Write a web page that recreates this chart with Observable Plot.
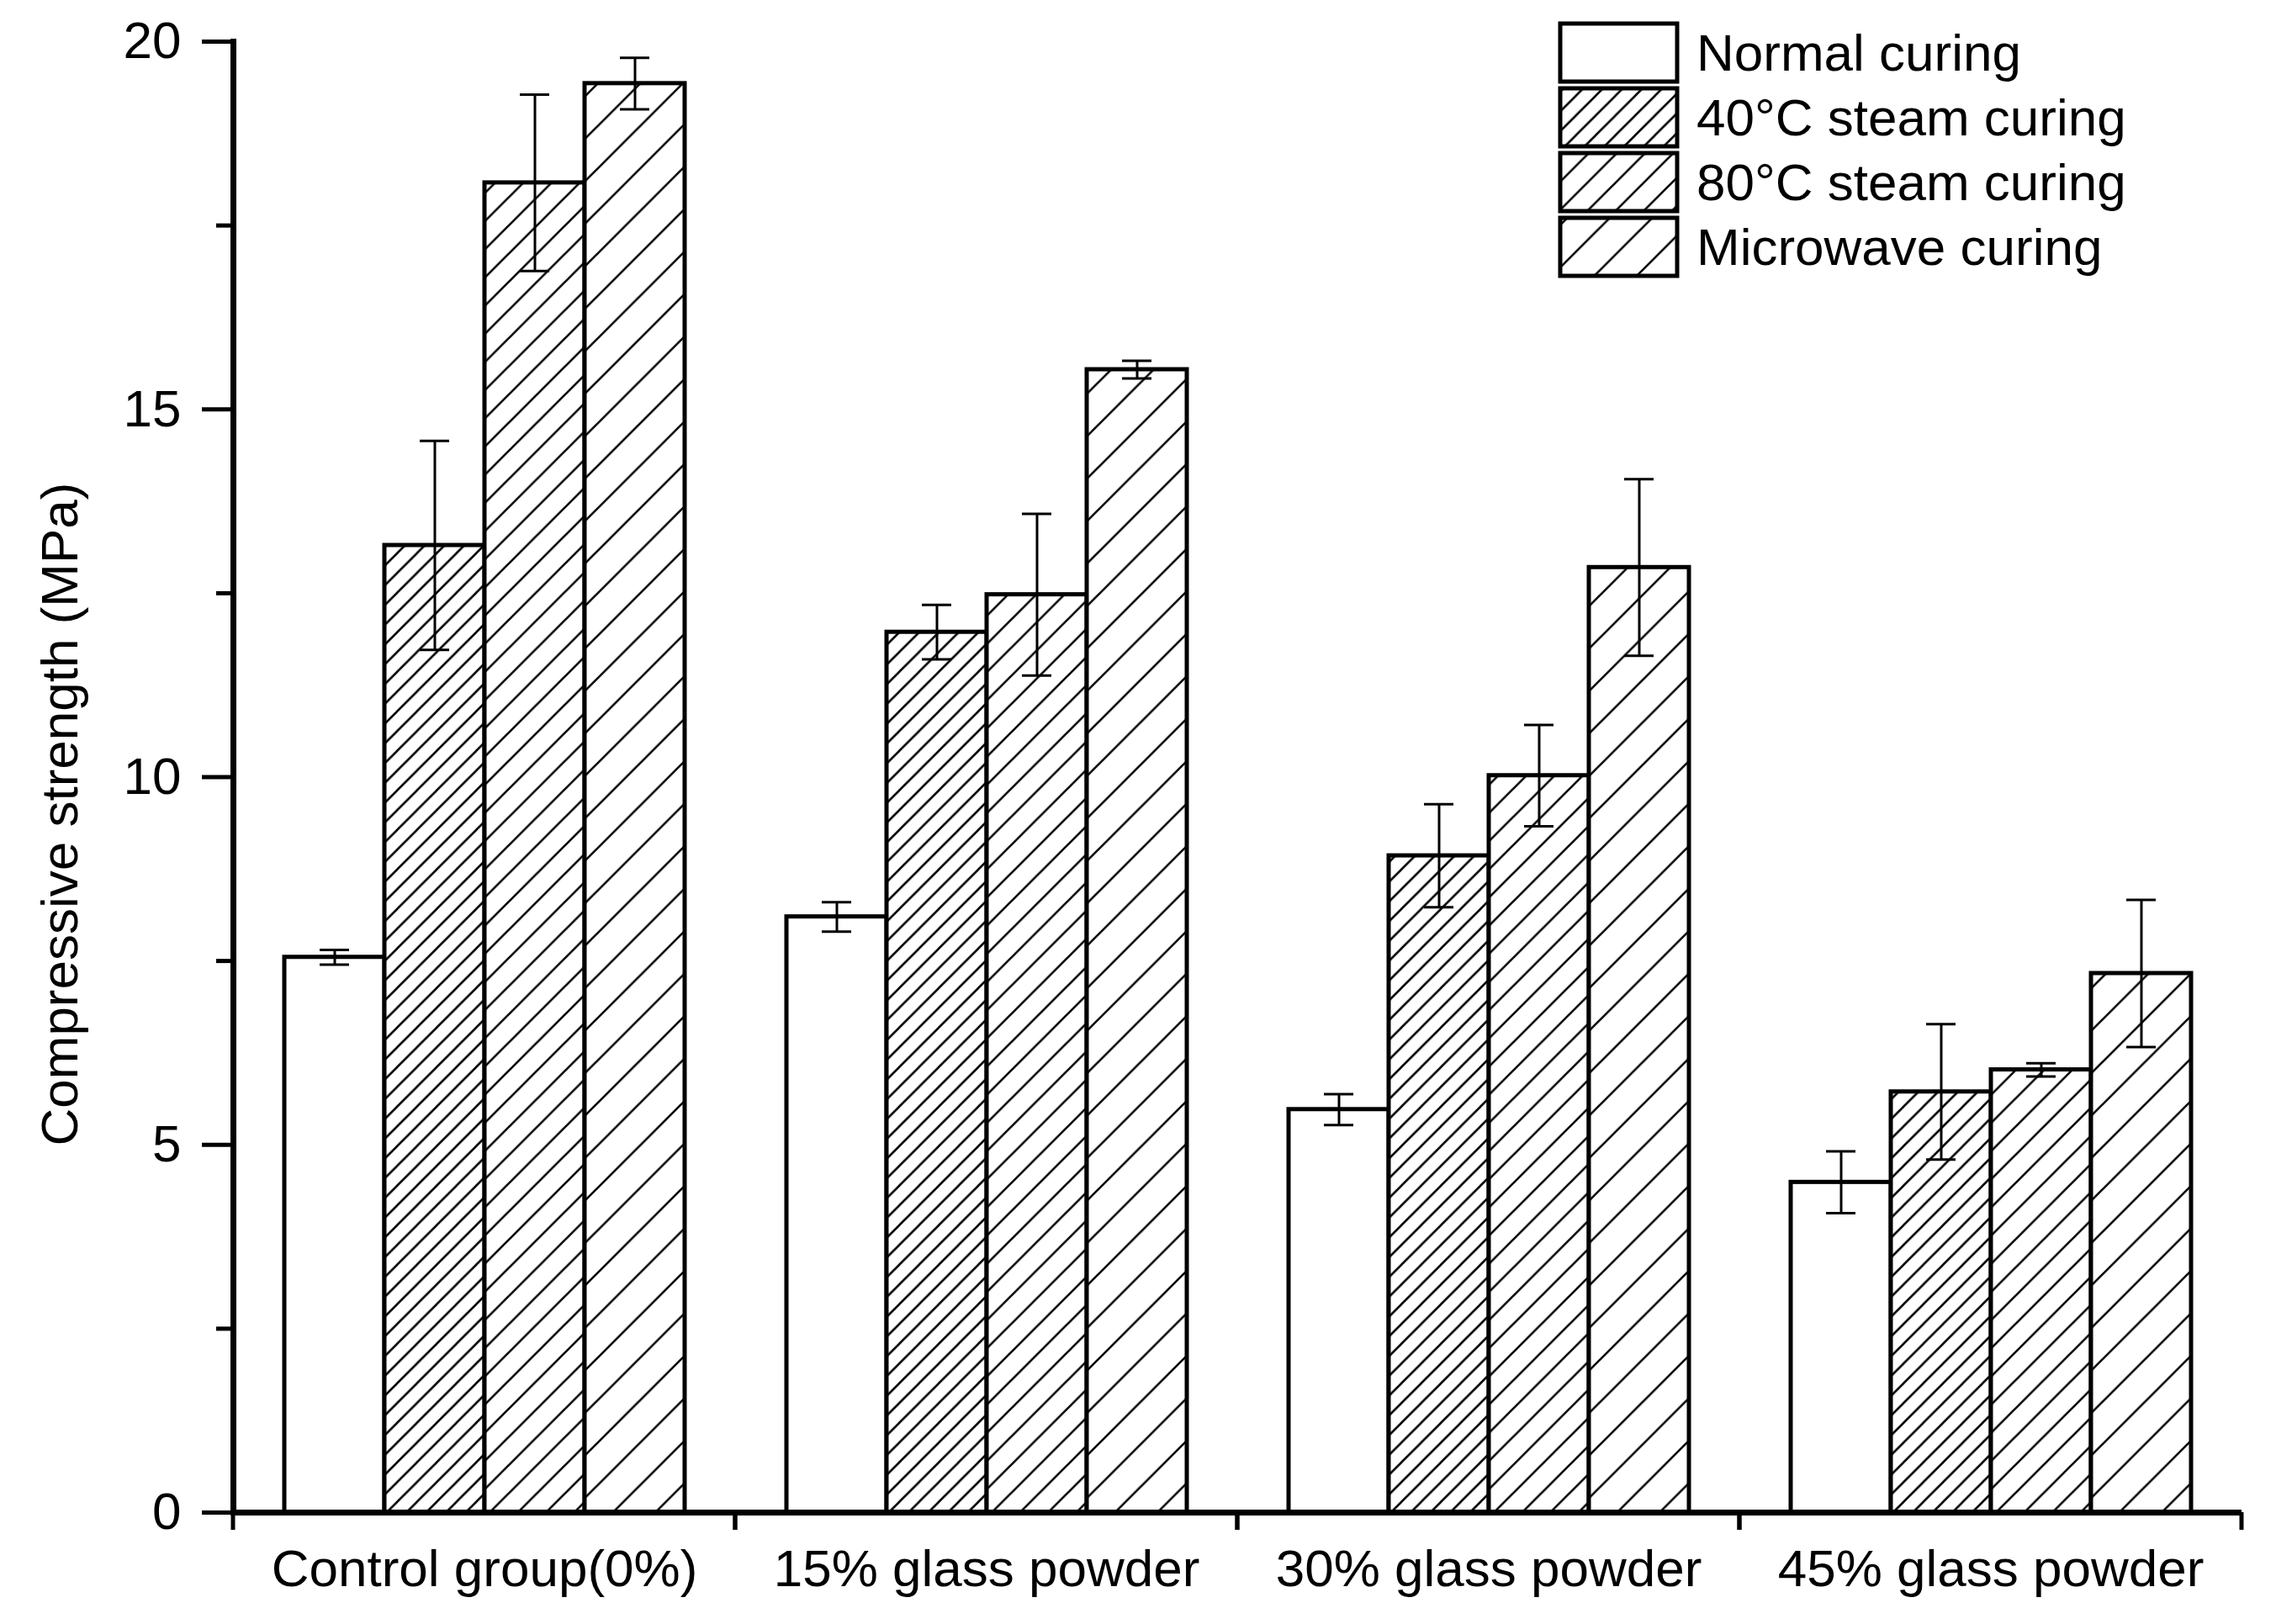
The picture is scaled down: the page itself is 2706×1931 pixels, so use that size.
<!DOCTYPE html>
<html><head><meta charset="utf-8">
<script src="https://cdn.jsdelivr.net/npm/d3@7"></script>
<script src="https://cdn.jsdelivr.net/npm/@observablehq/plot@0.6"></script>
<style>
html,body{margin:0;padding:0;background:#fff;overflow:hidden}
#wrap{position:relative;width:2706px;height:1931px;font-family:"Liberation Sans",Arial,sans-serif}
#defs{position:absolute;left:0;top:0;width:0;height:0}
#legend{position:absolute;left:1850px;top:20px}
</style></head><body><div id="wrap"></div>
<script>
// ---- data ----
const groups = ["Control group(0%)", "15% glass powder", "30% glass powder", "45% glass powder"];
const curings = ["Normal curing", "40°C steam curing", "80°C steam curing", "Microwave curing"];
const normal      = [7.55, 8.10, 5.48, 4.49];
const normalErr   = [0.10, 0.20, 0.21, 0.42];
const steam40     = [13.15, 11.97, 8.93, 5.72];
const steam40Err  = [1.42, 0.37, 0.70, 0.92];
const steam80     = [18.08, 12.48, 10.02, 6.02];
const steam80Err  = [1.20, 1.10, 0.69, 0.09];
const microwave   = [19.43, 15.54, 12.85, 7.33];
const microwaveErr= [0.35, 0.12, 1.20, 1.00];
const yTicks = [0, 5, 10, 15, 20];
const yMinorTicks = [2.5, 7.5, 12.5, 17.5];
const yLabel = "Compressive strength (MPa)";

const series = [[normal, normalErr], [steam40, steam40Err], [steam80, steam80Err], [microwave, microwaveErr]];
const data = [];
groups.forEach((g, gi) => curings.forEach((c, ci) => {
  data.push({group: g, curing: c, value: series[ci][0][gi], err: series[ci][1][gi]});
}));

// ---- styles ----
const W = 2706, H = 1931;
const FONT = "Liberation Sans, Arial, sans-serif";
const hatchSpacing = [null, 23.5, 33.5, 50.5];
const fills = ["#ffffff", "url(#hatch1)", "url(#hatch2)", "url(#hatch3)"];

const wrap = d3.select("#wrap");
const defsSvg = wrap.append("svg").attr("id", "defs").attr("width", 0).attr("height", 0);
const defs = defsSvg.append("defs");
hatchSpacing.forEach((s, i) => {
  if (!s) return;
  const p = defs.append("pattern").attr("id", "hatch" + i)
    .attr("patternUnits", "userSpaceOnUse").attr("width", s).attr("height", s);
  p.append("rect").attr("width", s).attr("height", s).attr("fill", "white");
  p.append("path")
    .attr("d", `M0,${s}L${s},0M${-s/4},${s/4}L${s/4},${-s/4}M${3*s/4},${5*s/4}L${5*s/4},${3*s/4}`)
    .attr("stroke", "black").attr("stroke-width", 2.6).attr("fill", "none");
});

function groupTicks(index, scales, values, dims) {
  const g = d3.create("svg:g").attr("stroke", "black").attr("stroke-width", 5);
  const y0 = scales.y(0);
  for (const x of [dims.marginLeft, dims.width - dims.marginRight]) {
    g.append("line").attr("x1", x).attr("x2", x).attr("y1", y0).attr("y2", y0 + 21);
  }
  return g.node();
}

const chart = Plot.plot({
  width: W, height: H,
  marginLeft: 275, marginRight: 40, marginTop: 49, marginBottom: 133,
  style: {fontFamily: FONT, fontSize: "62px", background: "white", color: "black"},
  fx: {domain: groups, padding: 0},
  x: {domain: curings, paddingInner: 0, paddingOuter: 0.5, axis: null},
  y: {domain: [0, 20]},
  color: {type: "ordinal", domain: curings, range: fills},
  marks: [
    Plot.barY(data, {fx: "group", x: "curing", y: "value", fill: "curing", stroke: "black", strokeWidth: 5}),
    Plot.ruleX(data, {fx: "group", x: "curing", y1: d => d.value - d.err, y2: d => d.value + d.err, stroke: "black", strokeWidth: 3}),
    Plot.tickY(data, {fx: "group", x: "curing", y: d => d.value + d.err, stroke: "black", strokeWidth: 3, insetLeft: 42, insetRight: 42}),
    Plot.tickY(data, {fx: "group", x: "curing", y: d => d.value - d.err, stroke: "black", strokeWidth: 3, insetLeft: 42, insetRight: 42}),
    Plot.ruleY([0], {stroke: "black", strokeWidth: 7}),
    Plot.frame({anchor: "left", facetAnchor: "left", stroke: "black", strokeWidth: 7}),
    groupTicks,
    Plot.axisY({ticks: yTicks, tickSize: 37, tickPadding: 25, strokeWidth: 5, fontSize: 62, label: null}),
    Plot.axisY({ticks: yMinorTicks, tickSize: 20, strokeWidth: 5, tickFormat: () => "", label: null}),
    Plot.axisFx({anchor: "bottom", tickSize: 0, tickPadding: 43, fontSize: 62, label: null}),
    Plot.text([yLabel], {frameAnchor: "left", facetAnchor: "left", rotate: -90, dx: -205, dy: 44,
      fontSize: 62, textAnchor: "middle", lineAnchor: "middle", fill: "black"})
  ]
});
wrap.node().appendChild(chart);

// ---- legend ----
const leg = wrap.append("svg").attr("id", "legend").attr("width", 850).attr("height", 330)
  .style("font-family", FONT);
curings.forEach((c, i) => {
  const top = 8 + i * 77;
  leg.append("rect").attr("x", 5).attr("y", top).attr("width", 139).attr("height", 69)
    .attr("fill", fills[i]).attr("stroke", "black").attr("stroke-width", 5);
  leg.append("text").attr("x", 167).attr("y", top + 34.5).attr("dy", "0.35em")
    .attr("font-size", 62).attr("fill", "black").text(c);
});
</script></body></html>
